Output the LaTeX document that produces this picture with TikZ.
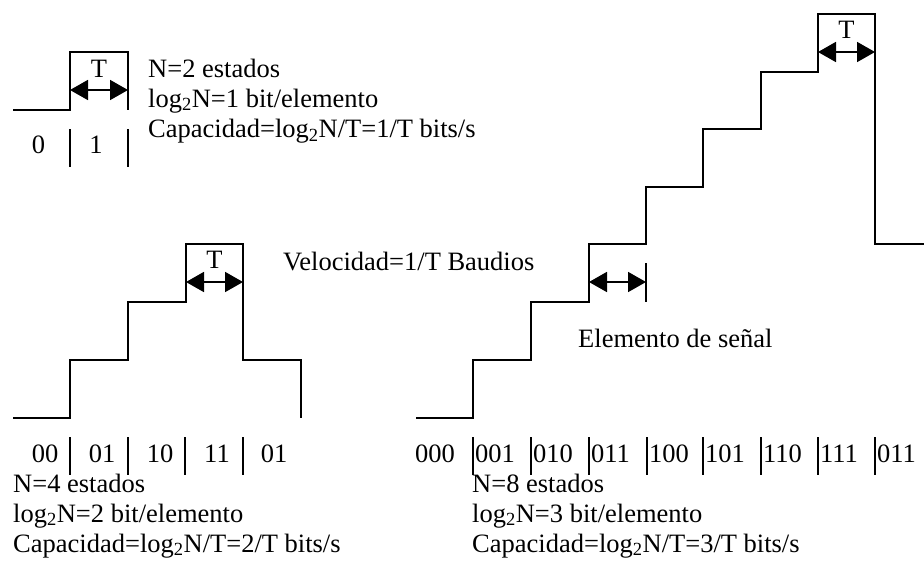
\documentclass[tikz,border=0pt]{standalone}
\usepackage{fontspec}
\setmainfont{Liberation Serif}
\usetikzlibrary{positioning,arrows.meta}

\begin{document}
\begin{tikzpicture}[
    x=1pt, y=-1pt,
    font=\fontsize{26.5}{30}\selectfont,
    signal/.style={line width=1.8pt, line join=miter},
    tick/.style={line width=1.8pt},
    dimarrow/.style={{Triangle[length=18pt,width=20pt]}-{Triangle[length=18pt,width=20pt]}, line width=1.8pt},
    info/.style={inner sep=0pt, anchor=base west},
    bits/.style={inner sep=0pt, anchor=base}
]
\useasboundingbox (0,0) rectangle (924,566);

% Two-level signal
\draw[signal] (13,110) -- (70,110) -- (70,52) -- (128,52) -- (128,110);
\coordinate (t2a) at (70,90);
\coordinate (t2b) at (128,90);
\draw[dimarrow] (t2a) -- (t2b);
\node[bits] (T2) at (99,77) {T};

\node[bits] (b2a) at (38.5,153) {0};
\node[bits] (b2b) at (96,153) {1};
\foreach \x in {70,128}
    \draw[tick] (\x,129) -- (\x,167);

\node[info] (n2) at (148,77) {N=2 estados};
\node[info, below=30pt of n2.base west, anchor=base west] (log2) {log\textsubscript{2}N=1 bit/elemento};
\node[info, below=30.5pt of log2.base west, anchor=base west] (cap2) {Capacidad=log\textsubscript{2}N/T=1/T bits/s};

% Four-level signal
\draw[signal] (13,418) -- (70,418) -- (70,360) -- (128,360) -- (128,302) -- (186,302)
    -- (186,244) -- (243,244) -- (243,360) -- (301,360) -- (301,418);
\coordinate (t4a) at (186,282);
\coordinate (t4b) at (243,282);
\draw[dimarrow] (t4a) -- (t4b);
\node[bits] (T4) at (214.5,268) {T};

\node[bits] (b4a) at (45,462) {00};
\node[bits] (b4b) at (102,462) {01};
\node[bits] (b4c) at (160,462) {10};
\node[bits] (b4d) at (217,462) {11};
\node[bits] (b4e) at (274,462) {01};
\foreach \x in {70,128,185,243}
    \draw[tick] (\x,437) -- (\x,475);

\node[info] (n4) at (13,492) {N=4 estados};
\node[info, below=30pt of n4.base west, anchor=base west] (log4) {log\textsubscript{2}N=2 bit/elemento};
\node[info, below=30pt of log4.base west, anchor=base west] (cap4) {Capacidad=log\textsubscript{2}N/T=2/T bits/s};

\node[info] (vel) at (283,270) {Velocidad=1/T Baudios};

% Eight-level signal
\draw[signal] (416,418) -- (473,418) -- (473,360) -- (531,360) -- (531,302) -- (589,302)
    -- (589,244) -- (646,244) -- (646,187) -- (703,187) -- (703,129) -- (761,129)
    -- (761,72) -- (818,72) -- (818,14) -- (875,14) -- (875,244) -- (924,244);
\coordinate (t8a) at (818,52);
\coordinate (t8b) at (875,52);
\draw[dimarrow] (t8a) -- (t8b);
\node[bits] (T8) at (846.5,38) {T};

% signal element
\coordinate (ea) at (589,282);
\coordinate (eb) at (646,282);
\draw[dimarrow] (ea) -- (eb);
\draw[tick] (646,263) -- (646,302);
\node[info] (elem) at (578,347) {Elemento de señal};

\node[info] (b8a) at (415,462) {000};
\foreach \x/\lab in {473/001,531/010,589/011,647/100,703/101,761/110,818/111,875/011} {
    \draw[tick] (\x,437) -- (\x,475);
    \node[info] at (\x+2,462) {\lab};
}

\node[info] (n8) at (472,492) {N=8 estados};
\node[info, below=30pt of n8.base west, anchor=base west] (log8) {log\textsubscript{2}N=3 bit/elemento};
\node[info, below=30pt of log8.base west, anchor=base west] (cap8) {Capacidad=log\textsubscript{2}N/T=3/T bits/s};

\end{tikzpicture}
\end{document}
